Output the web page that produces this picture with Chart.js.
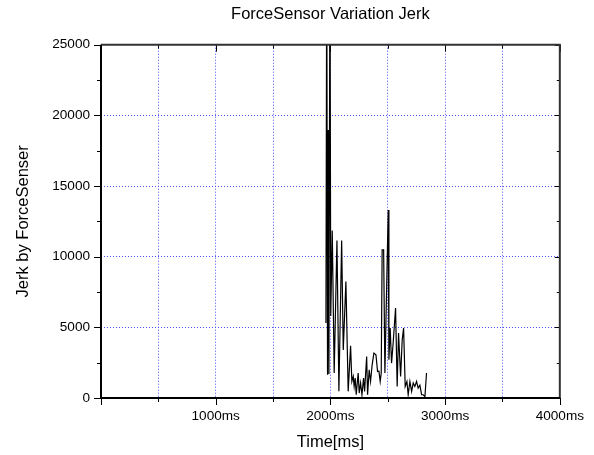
<!DOCTYPE html>
<html>
<head>
<meta charset="utf-8">
<script src="https://cdn.jsdelivr.net/npm/chart.js@4.4.0/dist/chart.umd.min.js"></script>
<style>
    html, body { margin: 0; padding: 0; background: #fff; }
</style>
</head>
<body>
<canvas id="jerkGraph" width="594" height="455"></canvas>
<script>
"use strict"

// Mesures (temps en ms, jerk)
const timeMs = [1961, 1968, 1975, 1981, 1987, 1996, 2003, 2016, 2033, 2057,
    2074, 2098, 2112, 2135, 2155, 2176, 2187, 2199, 2207, 2216,
    2225, 2242, 2251, 2263, 2275, 2289, 2298, 2316, 2324, 2338,
    2350, 2364, 2379, 2397, 2411, 2423, 2434, 2443, 2451, 2464,
    2475, 2504, 2510, 2521, 2533, 2547, 2568, 2582, 2594, 2612,
    2626, 2638, 2652, 2667, 2678, 2693, 2708, 2722, 2736, 2751,
    2765, 2780, 2795, 2809, 2824, 2838];
const jerkValues = [5300, 32000, 1650, 18960, 1700, 32000, 5800, 11850, 1770, 11140,
    470, 11140, 3400, 8240, 470, 3700, 1170, 1530, 820, 1410,
    230, 1770, 350, 1060, 230, 1410, 470, 2940, 230, 2000,
    1170, 2350, 3180, 3060, 1880, 1900, 1170, 1770, 10480, 10480,
    1770, 13310, 2710, 4950, 2470, 3890, 6360, 820, 4600, 1530,
    4120, 4950, 820, 1170, 230, 1170, 470, 1060, 820, 1170,
    700, 900, 230, 230, 100, 1770];

// Graduations
const xTickValues = [1000, 2000, 3000, 4000];
const xTickLabels = ['1000ms', '2000ms', '3000ms', '4000ms'];
const yTickValues = [0, 5000, 10000, 15000, 20000, 25000];
const yTickLabels = ['0', '5000', '10000', '15000', '20000', '25000'];

const points = timeMs.map((t, i) => ({ x: t, y: jerkValues[i] }));

Chart.defaults.font.family = "'Liberation Sans', Arial, sans-serif";
Chart.defaults.color = '#000';

const gridBlue = '#4d4dff';

// Cadre + petites graduations (dedans / dehors)
const framePlugin = {
    id: 'frame',
    afterDraw(chart) {
        const ctx = chart.ctx;
        const a = chart.chartArea;
        const xs = chart.scales.x;
        const ys = chart.scales.y;
        ctx.save();
        ctx.lineWidth = 1;
        ctx.strokeStyle = '#000';
        for (let v = 0; v <= 4000; v += 500) {
            const px = Math.round(xs.getPixelForValue(v)) + 0.5;
            const major = v % 1000 === 0;
            ctx.beginPath();
            ctx.moveTo(px, a.bottom);
            ctx.lineTo(px, a.bottom + (major ? 7 : 4));
            ctx.moveTo(px, a.top);
            ctx.lineTo(px, a.top + (major ? 7 : 4));
            ctx.stroke();
        }
        for (let v = 0; v <= 25000; v += 2500) {
            const py = Math.round(ys.getPixelForValue(v)) + 0.5;
            const major = v % 5000 === 0;
            ctx.beginPath();
            ctx.moveTo(a.left, py);
            ctx.lineTo(a.left - (major ? 7 : 4), py);
            ctx.moveTo(a.right, py);
            ctx.lineTo(a.right - (major ? 5 : 3), py);
            ctx.stroke();
        }
        ctx.lineWidth = 2;
        ctx.strokeStyle = '#333';
        ctx.beginPath();
        ctx.moveTo(a.left, a.top);
        ctx.lineTo(a.right, a.top);
        ctx.lineTo(a.right, a.bottom);
        ctx.stroke();
        ctx.strokeStyle = '#000';
        ctx.beginPath();
        ctx.moveTo(a.left, a.top);
        ctx.lineTo(a.left, a.bottom);
        ctx.lineTo(a.right, a.bottom);
        ctx.stroke();
        ctx.restore();
    }
};

new Chart(document.getElementById('jerkGraph'), {
    type: 'line',
    data: {
        datasets: [{
            data: points,
            borderColor: '#000',
            borderWidth: 1.2,
            pointRadius: 0,
            tension: 0,
            fill: false
        }]
    },
    options: {
        responsive: false,
        animation: false,
        layout: { padding: { left: 0, right: 34, top: 0, bottom: 0 } },
        plugins: {
            legend: { display: false },
            tooltip: { enabled: false },
            title: {
                display: true,
                text: 'ForceSensor Variation Jerk',
                fullSize: false,
                color: '#000',
                font: { size: 16.5, weight: 'normal' },
                padding: { top: 4.6, bottom: 20.3 }
            }
        },
        scales: {
            x: {
                type: 'linear',
                min: 0,
                max: 4000,
                afterFit: s => { s.height = 57; },
                border: { display: false, dash: [1, 2] },
                grid: {
                    drawTicks: false,
                    lineWidth: 1,
                    color: c => (c.tick && c.tick.value > 0 && c.tick.value < 4000) ? gridBlue : 'transparent'
                },
                ticks: {
                    stepSize: 500,
                    autoSkip: false,
                    maxRotation: 0,
                    padding: 10,
                    font: { size: 13.6 },
                    callback: v => {
                        const i = xTickValues.indexOf(v);
                        return i >= 0 ? xTickLabels[i] : '';
                    }
                },
                title: {
                    display: true,
                    text: 'Time[ms]',
                    font: { size: 16.5 },
                    padding: { top: 0, bottom: 3 }
                }
            },
            y: {
                min: 0,
                max: 25000,
                afterFit: s => { s.width = 101; },
                border: { display: false, dash: [1, 2] },
                grid: {
                    drawTicks: false,
                    lineWidth: 1,
                    color: c => (c.tick && c.tick.value % 5000 === 0 && c.tick.value > 0 && c.tick.value < 25000) ? gridBlue : 'transparent'
                },
                ticks: {
                    stepSize: 2500,
                    autoSkip: false,
                    padding: 11,
                    font: { size: 13.6 },
                    callback: v => {
                        const i = yTickValues.indexOf(v);
                        return i >= 0 ? yTickLabels[i] : '';
                    }
                },
                title: {
                    display: true,
                    text: 'Jerk by ForceSenser',
                    font: { size: 16.5 },
                    padding: { top: 14, bottom: 0 }
                }
            }
        }
    },
    plugins: [framePlugin]
});
</script>
</body>
</html>
